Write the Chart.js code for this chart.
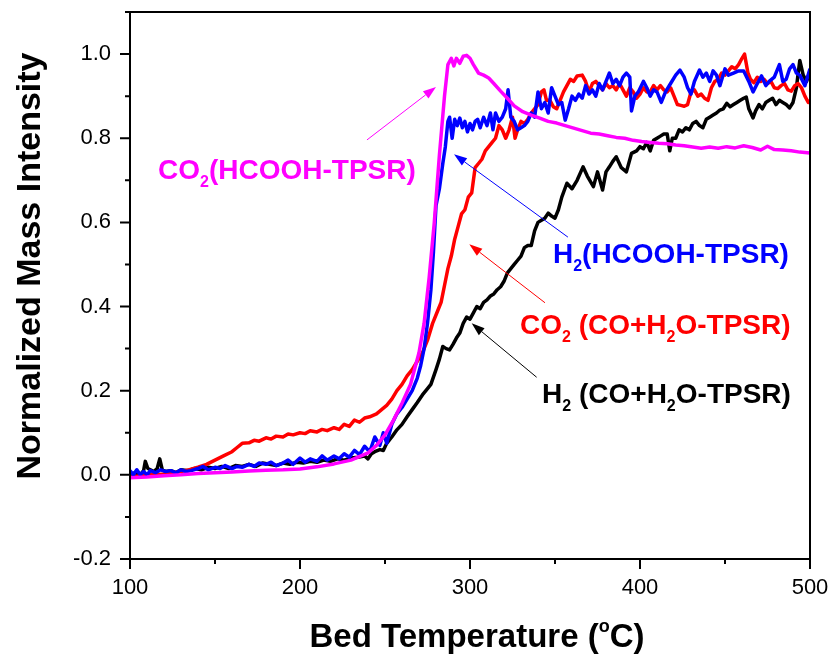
<!DOCTYPE html>
<html>
<head>
<meta charset="utf-8">
<script src="https://cdn.jsdelivr.net/npm/chart.js@4.4.0/dist/chart.umd.min.js"></script>
<style>
  html, body { margin: 0; padding: 0; background: #fff; }
</style>
</head>
<body>
<canvas id="tpsr" width="833" height="658"></canvas>
<script>
// CO2 from HCOOH-TPSR (magenta)
const co2FaTemp = [100,110,120,130,140,150,160,170,180,190,
  200,210,220,230,240,245,250,255,260,265,
  270,273,276,279,282,285,287,289,290.5,292,
  294,296,298,300,302,305,308,311,314,318,
  322,326,331,336,341,346,351,356,361,366,
  371,376,381,386,391,396,401,406,411,416,
  421,426,431,436,441,446,451,456,461,466,
  471,475,479,484,489,494,500];
const co2FaInt = [-0.007,-0.005,-0.002,0.0,0.003,0.005,0.007,0.009,0.011,0.012,
  0.014,0.019,0.026,0.035,0.052,0.07,0.095,0.13,0.17,0.215,
  0.29,0.36,0.47,0.6,0.76,0.9,0.975,0.99,0.972,0.99,
  0.978,0.995,0.997,0.99,0.975,0.955,0.95,0.943,0.93,0.912,
  0.895,0.877,0.863,0.855,0.848,0.84,0.836,0.83,0.824,0.818,
  0.812,0.81,0.806,0.802,0.8,0.795,0.792,0.79,0.788,0.787,
  0.784,0.782,0.779,0.776,0.779,0.776,0.78,0.777,0.782,0.778,
  0.772,0.781,0.773,0.772,0.77,0.767,0.765];

// H2 from HCOOH-TPSR (blue)
const h2FaTemp = [100,102,104,106,108,110,112,115,118,121,
  124,127,130,133,136,140,143,146,150,153,
  156,160,163,166,170,173,176,180,183,186,
  190,193,196,200,203,206,210,213,216,220,
  223,226,229,232,235,238,241,244,247,249,
  251,254,257,260,263,266,269,271,273,275,
  277,278.5,280,282,284,285.5,287,288,289.5,291,
  292.5,294,295.5,297,298.5,300,301.5,303,304.5,306,
  308,310,312,313.5,315,317,319,321,322.4,324,
  326,328,330,332,334,336,338,340,342,344,
  346,348,350,352,354,356,358,360,362,364,
  366,368,370,372,374,376,378,380,382,384,
  386,388,390,392,394,395,397,399,402,404,
  406,408,410,412.5,415,418,421,423.5,426,428,
  430,432,435,437,439,441,443,445,447,450,
  452,455,458,461,464,466.5,469,471.5,474,476,
  479,482,484,486,488,490,492,494,497,500];
const h2FaInt = [0.01,0.0,0.012,0.0,0.008,0.0,0.01,0.005,0.012,0.008,
  0.01,0.005,0.012,0.008,0.01,0.015,0.02,0.012,0.018,0.015,
  0.022,0.015,0.02,0.018,0.025,0.02,0.028,0.025,0.03,0.022,
  0.028,0.035,0.025,0.04,0.03,0.038,0.032,0.045,0.035,0.045,
  0.038,0.05,0.042,0.058,0.048,0.068,0.055,0.09,0.07,0.1,
  0.075,0.12,0.145,0.16,0.18,0.2,0.23,0.26,0.3,0.36,
  0.44,0.53,0.64,0.68,0.74,0.78,0.84,0.85,0.8,0.845,
  0.83,0.848,0.825,0.84,0.815,0.835,0.82,0.84,0.845,0.825,
  0.85,0.83,0.86,0.82,0.86,0.84,0.85,0.87,0.915,0.85,
  0.84,0.82,0.825,0.83,0.84,0.86,0.85,0.91,0.87,0.885,
  0.86,0.92,0.9,0.88,0.885,0.843,0.87,0.9,0.89,0.905,
  0.895,0.925,0.905,0.915,0.9,0.93,0.915,0.935,0.955,0.93,
  0.94,0.925,0.945,0.955,0.945,0.865,0.9,0.91,0.935,0.92,
  0.9,0.915,0.91,0.885,0.91,0.93,0.95,0.962,0.945,0.92,
  0.905,0.935,0.962,0.945,0.955,0.935,0.96,0.95,0.925,0.965,
  0.95,0.955,0.96,0.96,0.935,0.91,0.93,0.948,0.925,0.935,
  0.945,0.975,0.935,0.94,0.965,0.975,0.955,0.95,0.925,0.965];

// CO2 from CO+H2O-TPSR (red)
const co2WgsTemp = [100,105,110,115,120,125,130,135,140,145,
  150,155,160,163,166,170,173,176,180,183,
  186,190,193,196,200,203,206,210,213,216,
  220,223,226,229,232,235,238,241,245,248,
  251,254,257,260,263,266,269,272,275,278,
  281,283,285,287,289,291,293,295,297,299,
  301,303,305,307,309,311,313,315,317,319,
  321,323,325,326.5,328,330,332,334,336,338,
  340,342,343.5,345,347,349,351,353,355,357,
  359,361,363,366,368,370,372,374,376,378,
  380,382,384,386,388,390,392,394,396,398,
  400,402,404,406,408,410,412,414,416,418,
  420,422,424,426,428,430,432,434,436,438,
  440,442,444,446,448,450,452,454,456,458,
  460,461.5,463.5,465,467,469,471,473,475,477,
  479,481,483,485,487,489,491,493,495,497,
  499,500];
const co2WgsInt = [-0.005,-0.003,0.0,0.0,0.002,0.005,0.008,0.012,0.018,0.025,
  0.035,0.045,0.055,0.065,0.075,0.076,0.082,0.08,0.088,0.085,
  0.092,0.09,0.097,0.095,0.1,0.098,0.105,0.102,0.108,0.105,
  0.112,0.108,0.12,0.115,0.13,0.125,0.135,0.138,0.145,0.155,
  0.165,0.18,0.2,0.215,0.235,0.25,0.27,0.29,0.32,0.36,
  0.39,0.41,0.45,0.49,0.52,0.56,0.59,0.62,0.63,0.66,
  0.67,0.73,0.74,0.75,0.77,0.78,0.79,0.8,0.83,0.82,
  0.8,0.82,0.85,0.8,0.82,0.84,0.835,0.845,0.86,0.87,
  0.88,0.91,0.915,0.89,0.89,0.875,0.87,0.89,0.91,0.925,
  0.94,0.935,0.948,0.95,0.935,0.91,0.93,0.935,0.925,0.915,
  0.93,0.92,0.925,0.915,0.93,0.915,0.9,0.92,0.91,0.895,
  0.905,0.92,0.91,0.91,0.925,0.915,0.925,0.915,0.91,0.92,
  0.9,0.88,0.878,0.876,0.88,0.91,0.915,0.9,0.905,0.895,
  0.89,0.92,0.935,0.94,0.955,0.95,0.96,0.97,0.965,0.975,
  0.99,1.0,0.955,0.94,0.932,0.945,0.935,0.94,0.93,0.935,
  0.92,0.918,0.925,0.93,0.915,0.912,0.925,0.93,0.92,0.9,
  0.885,0.89];

// H2 from CO+H2O-TPSR (black)
const h2WgsTemp = [100,103,106,108,109,110.5,112,114,116,117.5,
  119,121,124,127,130,134,138,142,146,150,
  154,158,162,166,170,174,178,182,186,190,
  194,198,202,206,210,214,218,222,226,230,
  234,238,240,242,244,247,249,251,254,257,
  260,263,266,269,272,275,277,280,282,284,
  286,288,290,292,294,296,298,300,302,304,
  306,308,310,312,314,316,318,320,322,324,
  326,328,330,332,334,336,338,340,342,344,
  346,348,350,352,354,357,360,363,366.5,369,
  372.6,375,378,380,382,384,386,389,392,395,
  398,400,402,404,406,408,410,412,414,416,
  417.5,419,421,423,425,427,429,431,433,435,
  437,439,441,443,445,447,449,451,453,455,
  457,459,461,462.5,464,466.5,468,470,472,474,
  476,478,480,482,484,486,488,490,492,494,
  496,498,500];
const h2WgsInt = [0.0,0.005,0.0,0.01,0.032,0.015,0.012,0.008,0.015,0.038,
  0.012,0.008,0.01,0.005,0.012,0.01,0.015,0.012,0.018,0.015,
  0.02,0.015,0.022,0.02,0.025,0.02,0.028,0.025,0.022,0.028,
  0.025,0.03,0.028,0.032,0.03,0.035,0.032,0.038,0.035,0.04,
  0.042,0.045,0.038,0.05,0.055,0.06,0.058,0.075,0.09,0.107,
  0.12,0.138,0.155,0.172,0.19,0.205,0.215,0.25,0.275,0.305,
  0.3,0.297,0.31,0.325,0.337,0.36,0.375,0.37,0.385,0.4,
  0.395,0.41,0.416,0.425,0.43,0.44,0.447,0.46,0.48,0.49,
  0.5,0.51,0.52,0.54,0.545,0.545,0.58,0.6,0.605,0.61,
  0.622,0.615,0.61,0.63,0.66,0.693,0.68,0.7,0.732,0.71,
  0.685,0.72,0.677,0.72,0.732,0.745,0.756,0.73,0.72,0.764,
  0.77,0.78,0.775,0.79,0.77,0.795,0.8,0.805,0.81,0.81,
  0.77,0.8,0.8,0.82,0.815,0.825,0.82,0.835,0.84,0.83,
  0.825,0.845,0.85,0.855,0.86,0.867,0.87,0.883,0.875,0.88,
  0.885,0.89,0.895,0.898,0.87,0.848,0.865,0.88,0.87,0.885,
  0.89,0.895,0.88,0.89,0.885,0.88,0.872,0.885,0.92,0.985,
  0.95,0.935,0.96];

// labels drawn on the plot: [text, 0 = normal / 1 = subscript]
const noteColors = ["#ff00ff", "#0000ff", "#ff0000", "#000000"];
const noteParts = [
  [["CO", 0], ["2", 1], ["(HCOOH-TPSR)", 0]],
  [["H", 0], ["2", 1], ["(HCOOH-TPSR)", 0]],
  [["CO", 0], ["2", 1], [" (CO+H", 0], ["2", 1], ["O-TPSR)", 0]],
  [["H", 0], ["2", 1], [" (CO+H", 0], ["2", 1], ["O-TPSR)", 0]]
];
const noteAt = [[116.5, 0.703], [348.8, 0.504], [329.4, 0.335], [342.4, 0.171]]; // left, baseline (data units)
const arrowFrom = [[239.4, 0.796], [357.6, 0.565], [344.1, 0.409], [339.2, 0.232]];
const arrowTo = [[280, 0.922], [290.6, 0.762], [299.6, 0.548], [301, 0.36]];

const FONT = "'Liberation Sans', Arial, sans-serif";

function pts(t, v) {
  return t.map((x, i) => ({ x: x, y: v[i] }));
}

// text with sub/superscripts, parts = [[text, shift]], shift 1 sub, -1 sup
function drawRich(ctx, parts, x, y, size, small) {
  let cx = x;
  parts.forEach(([txt, shift]) => {
    const sz = shift ? small : size;
    ctx.font = `bold ${sz}px ${FONT}`;
    const dy = shift === 1 ? size * 0.3 : shift === -1 ? -size * 0.46 : 0;
    ctx.fillText(txt, cx, y + dy);
    cx += ctx.measureText(txt).width;
  });
}

function richWidth(ctx, parts, size, small) {
  let w = 0;
  parts.forEach(([txt, shift]) => {
    ctx.font = `bold ${shift ? small : size}px ${FONT}`;
    w += ctx.measureText(txt).width;
  });
  return w;
}

const decor = {
  id: "decor",
  afterDraw(chart) {
    const { ctx, chartArea: a, scales: { x, y } } = chart;
    ctx.save();
    ctx.strokeStyle = "#000";
    ctx.fillStyle = "#000";
    ctx.lineWidth = 2;
    ctx.strokeRect(a.left, a.top, a.right - a.left, a.bottom - a.top);

    // tick marks, outward
    ctx.beginPath();
    x.ticks.forEach(t => {
      const p = x.getPixelForValue(t.value);
      const len = t.value % 100 === 0 ? 10 : 5;
      ctx.moveTo(p, a.bottom);
      ctx.lineTo(p, a.bottom + len);
    });
    y.ticks.forEach(t => {
      const p = y.getPixelForValue(t.value);
      const k = Math.round(t.value * 10);
      const len = (k % 2 === 0) ? 10 : 5;
      ctx.moveTo(a.left, p);
      ctx.lineTo(a.left - len, p);
    });
    ctx.stroke();

    // axis titles
    ctx.textBaseline = "alphabetic";
    ctx.textAlign = "left";
    const xt = [["Bed Temperature (", 0], ["o", -1], ["C)", 0]];
    const xw = richWidth(ctx, xt, 33, 18);
    drawRich(ctx, xt, (a.left + a.right) / 2 + 7 - xw / 2, 647, 33, 18);

    ctx.save();
    ctx.translate(40, 266);
    ctx.rotate(-Math.PI / 2);
    ctx.font = `bold 34px ${FONT}`;
    ctx.textAlign = "center";
    ctx.fillText("Normalized Mass Intensity", 0, 0);
    ctx.restore();

    // annotations + arrows
    noteParts.forEach((parts, i) => {
      ctx.fillStyle = noteColors[i];
      ctx.strokeStyle = noteColors[i];
      ctx.textAlign = "left";
      drawRich(ctx, parts, x.getPixelForValue(noteAt[i][0]), y.getPixelForValue(noteAt[i][1]), 28, 16);

      const x0 = x.getPixelForValue(arrowFrom[i][0]), y0 = y.getPixelForValue(arrowFrom[i][1]);
      const x1 = x.getPixelForValue(arrowTo[i][0]), y1 = y.getPixelForValue(arrowTo[i][1]);
      const ang = Math.atan2(y1 - y0, x1 - x0);
      const hl = 13, hw = 4.5;
      ctx.lineWidth = 1;
      ctx.beginPath();
      ctx.moveTo(x0, y0);
      ctx.lineTo(x1 - hl * Math.cos(ang), y1 - hl * Math.sin(ang));
      ctx.stroke();
      ctx.beginPath();
      ctx.moveTo(x1, y1);
      ctx.lineTo(x1 - hl * Math.cos(ang) + hw * Math.sin(ang), y1 - hl * Math.sin(ang) - hw * Math.cos(ang));
      ctx.lineTo(x1 - hl * Math.cos(ang) - hw * Math.sin(ang), y1 - hl * Math.sin(ang) + hw * Math.cos(ang));
      ctx.closePath();
      ctx.fill();
    });
    ctx.restore();
  }
};

const line = (label, data, color) => ({
  label, data, borderColor: color, backgroundColor: color,
  borderWidth: 3.5, pointRadius: 0, tension: 0, fill: false,
  borderJoinStyle: "round"
});

// keep the plot box where the reference has it (no extra label padding)
function noPad(s) {
  s.paddingLeft = 0; s.paddingRight = 0; s.paddingTop = 0; s.paddingBottom = 0;
}

new Chart(document.getElementById("tpsr"), {
  type: "line",
  data: {
    datasets: [
      line("CO2(HCOOH-TPSR)", pts(co2FaTemp, co2FaInt), "#ff00ff"),
      line("H2(HCOOH-TPSR)", pts(h2FaTemp, h2FaInt), "#0000ff"),
      line("CO2 (CO+H2O-TPSR)", pts(co2WgsTemp, co2WgsInt), "#ff0000"),
      line("H2 (CO+H2O-TPSR)", pts(h2WgsTemp, h2WgsInt), "#000000")
    ]
  },
  options: {
    responsive: false,
    animation: false,
    events: [],
    layout: { padding: { top: 12, right: 23, left: 0, bottom: 0 } },
    plugins: { legend: { display: false }, tooltip: { enabled: false } },
    scales: {
      x: {
        type: "linear", min: 100, max: 500,
        grid: { display: false, drawTicks: false },
        border: { display: false },
        ticks: {
          stepSize: 50, autoSkip: false, maxRotation: 0, padding: 16,
          color: "#000", font: { family: FONT, size: 22 },
          callback: v => (v % 100 === 0 ? v : "")
        },
        afterFit: s => { s.height = 99; noPad(s); }
      },
      y: {
        type: "linear", min: -0.2, max: 1.1,
        grid: { display: false, drawTicks: false },
        border: { display: false },
        ticks: {
          stepSize: 0.1, autoSkip: false, padding: 19,
          color: "#000", font: { family: FONT, size: 22 },
          callback: v => {
            const k = Math.round(v * 10);
            return (k % 2 === 0 && k <= 10) ? (k / 10).toFixed(1) : "";
          }
        },
        afterFit: s => { s.width = 130; noPad(s); }
      }
    }
  },
  plugins: [decor]
});
</script>
</body>
</html>
